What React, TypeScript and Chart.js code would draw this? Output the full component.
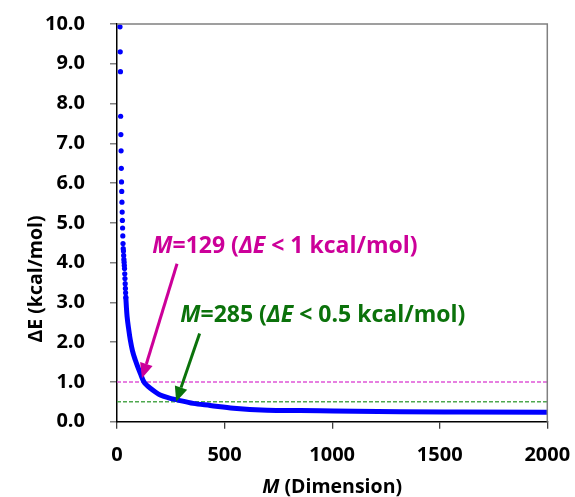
import React, { useEffect, useRef } from 'react';
import { Chart, registerables } from 'chart.js';

Chart.register(...registerables);

// ---- Data ----
// Individual (separated) points at small M
const dotM = [14, 15, 16, 17, 18, 19, 20, 21, 22, 23, 24, 25, 26, 27, 28, 29, 30, 31, 32, 33, 34, 35, 36, 37, 38, 39, 40, 41];
const dotE = [9.93, 9.30, 8.80, 7.68, 7.22, 6.81, 6.37, 6.03, 5.79, 5.52, 5.27, 5.06, 4.87, 4.67, 4.48, 4.35, 4.29, 4.18, 4.08, 4.01, 3.93, 3.85, 3.72, 3.60, 3.47, 3.35, 3.24, 3.13];

// Dense part of the series (points merge into a thick line)
const curveM = [41, 44, 47, 55, 62, 72, 85, 97, 108, 124, 140, 155, 180, 201, 240, 279, 354, 433, 542, 697, 852, 1006, 1316, 1600, 2000];
const curveE = [3.13, 2.85, 2.64, 2.30, 2.05, 1.78, 1.55, 1.37, 1.22, 1.01, 0.91, 0.84, 0.74, 0.67, 0.60, 0.55, 0.46, 0.41, 0.34, 0.29, 0.28, 0.27, 0.25, 0.245, 0.24];

// Threshold reference lines
const thresholdValues = [1.0, 0.5];
const xRange = [0, 2000];

// Annotations
const annotM = [129, 285];
const annotText = [
  [{ t: 'M', i: true }, { t: '=129 (' }, { t: 'ΔE', i: true }, { t: ' < 1 kcal/mol)' }],
  [{ t: 'M', i: true }, { t: '=285 (' }, { t: 'ΔE', i: true }, { t: ' < 0.5 kcal/mol)' }],
];
// text anchor (left, baseline) and arrow start / tip, in data units
const annotTextPos = [[164, 4.23], [294, 2.51]];
const arrowStart = [[279, 3.97], [384, 2.22]];
const arrowTip = [[116, 1.09], [275, 0.50]];

const xTicks = [0, 500, 1000, 1500, 2000];
const yTicks = [0, 1, 2, 3, 4, 5, 6, 7, 8, 9, 10];

const xTitle = [{ t: 'M', i: true }, { t: ' (Dimension)' }];
const yTitle = [{ t: 'ΔE (kcal/mol)' }];

const FONT = "'Open Sans', sans-serif";
const BLUE = '#0000FF';
const MAGENTA_LINE = '#E055D8';
const GREEN_LINE = '#4EA84E';
const MAGENTA_TEXT = '#CC0099';
const GREEN_TEXT = '#0B720B';

type Seg = { t: string; i?: boolean };

function richText(ctx: CanvasRenderingContext2D, segs: Seg[], x: number, yb: number, size: number, color: string, align: 'left' | 'center' = 'left') {
  const f = (it?: boolean) => `${it ? 'italic ' : ''}bold ${size}px ${FONT}`;
  let total = 0;
  segs.forEach((s) => {
    ctx.font = f(s.i);
    total += ctx.measureText(s.t).width;
  });
  let cx = align === 'center' ? x - total / 2 : x;
  ctx.fillStyle = color;
  ctx.textAlign = 'left';
  ctx.textBaseline = 'alphabetic';
  segs.forEach((s) => {
    ctx.font = f(s.i);
    ctx.fillText(s.t, cx, yb);
    cx += ctx.measureText(s.t).width;
  });
}

function arrow(ctx: CanvasRenderingContext2D, x1: number, y1: number, x2: number, y2: number, color: string) {
  const ang = Math.atan2(y2 - y1, x2 - x1);
  const headLen = 15;
  const headHalf = 6.5;
  const bx = x2 - headLen * Math.cos(ang);
  const by = y2 - headLen * Math.sin(ang);
  ctx.strokeStyle = color;
  ctx.fillStyle = color;
  ctx.lineWidth = 3;
  ctx.lineCap = 'butt';
  ctx.beginPath();
  ctx.moveTo(x1, y1);
  ctx.lineTo(bx, by);
  ctx.stroke();
  ctx.beginPath();
  ctx.moveTo(x2, y2);
  ctx.lineTo(bx + headHalf * Math.sin(ang), by - headHalf * Math.cos(ang));
  ctx.lineTo(bx - headHalf * Math.sin(ang), by + headHalf * Math.cos(ang));
  ctx.closePath();
  ctx.fill();
}

const decor = {
  id: 'decor',
  afterDraw(chart: any) {
    const { ctx, chartArea: a, scales } = chart;
    const x = scales.x;
    const y = scales.y;
    ctx.save();
    // top and right frame
    ctx.strokeStyle = '#808080';
    ctx.lineWidth = 1.5;
    ctx.beginPath();
    ctx.moveTo(a.left, a.top);
    ctx.lineTo(a.right, a.top);
    ctx.lineTo(a.right, a.bottom);
    ctx.stroke();

    const colors = [MAGENTA_TEXT, GREEN_TEXT];
    for (let k = 0; k < annotM.length; k++) {
      arrow(
        ctx,
        x.getPixelForValue(arrowStart[k][0]), y.getPixelForValue(arrowStart[k][1]),
        x.getPixelForValue(arrowTip[k][0]), y.getPixelForValue(arrowTip[k][1]),
        colors[k]
      );
      richText(ctx, annotText[k], x.getPixelForValue(annotTextPos[k][0]), y.getPixelForValue(annotTextPos[k][1]), 23, colors[k]);
    }

    // axis titles
    richText(ctx, xTitle, (a.left + a.right) / 2, 493, 19.5, '#000', 'center');
    ctx.save();
    ctx.translate(42, 279);
    ctx.rotate(-Math.PI / 2);
    richText(ctx, yTitle, 0, 0, 19.5, '#000', 'center');
    ctx.restore();
    ctx.restore();
  },
};

export default function App() {
  const ref = useRef<HTMLCanvasElement | null>(null);
  useEffect(() => {
    if (!ref.current) return;
    const tickFont = { family: FONT, size: 20, weight: 'bold' as const };
    const chart = new Chart(ref.current, {
      type: 'scatter',
      data: {
        datasets: [
          {
            label: 'curve',
            data: curveM.map((m, i) => ({ x: m, y: curveE[i] })),
            showLine: true,
            borderColor: BLUE,
            borderWidth: 5,
            pointRadius: 0,
            cubicInterpolationMode: 'monotone',
            fill: false,
          } as any,
          {
            label: 'points',
            data: dotM.map((m, i) => ({ x: m, y: dotE[i] })),
            showLine: false,
            backgroundColor: BLUE,
            borderWidth: 0,
            pointRadius: 2.6,
          },
          {
            label: 'thr1',
            data: xRange.map((v) => ({ x: v, y: thresholdValues[0] })),
            showLine: true,
            borderColor: MAGENTA_LINE,
            borderWidth: 1.5,
            borderDash: [4, 2],
            pointRadius: 0,
          },
          {
            label: 'thr2',
            data: xRange.map((v) => ({ x: v, y: thresholdValues[1] })),
            showLine: true,
            borderColor: GREEN_LINE,
            borderWidth: 1.5,
            borderDash: [4, 2],
            pointRadius: 0,
          },
        ],
      },
      options: {
        animation: false,
        responsive: false,
        devicePixelRatio: 1,
        layout: { padding: { top: 24, right: 27.7, left: 0, bottom: 0 } },
        plugins: { legend: { display: false }, tooltip: { enabled: false } },
        scales: {
          x: {
            type: 'linear',
            min: xRange[0],
            max: xRange[1],
            afterBuildTicks: (s: any) => { s.ticks = xTicks.map((v) => ({ value: v })); },
            afterFit: (s: any) => { s.height = 75.3; s.paddingLeft = 0; s.paddingRight = 0; },
            ticks: { font: tickFont, color: '#000', padding: 15, maxRotation: 0, callback: (v: any) => String(v) },
            grid: { drawOnChartArea: false, drawTicks: true, tickLength: 7, color: '#404040', lineWidth: 1.3 },
            border: { color: '#000', width: 1.5 },
          },
          y: {
            type: 'linear',
            min: 0,
            max: 10,
            afterBuildTicks: (s: any) => { s.ticks = yTicks.map((v) => ({ value: v })); },
            afterFit: (s: any) => { s.width = 117; s.paddingTop = 0; s.paddingBottom = 0; },
            ticks: { font: tickFont, color: '#000', padding: 25, callback: (v: any) => Number(v).toFixed(1) },
            grid: { drawOnChartArea: false, drawTicks: true, tickLength: 7, color: '#808080', lineWidth: 1.5 },
            border: { color: '#000', width: 1.5 },
          },
        },
      },
      plugins: [decor],
    } as any);
    return () => chart.destroy();
  }, []);
  return (
    <div style={{ position: 'fixed', left: 0, top: 0, width: 575, height: 497, background: '#fff' }}>
      <canvas ref={ref} width={575} height={497} style={{ display: 'block' }} />
    </div>
  );
}
